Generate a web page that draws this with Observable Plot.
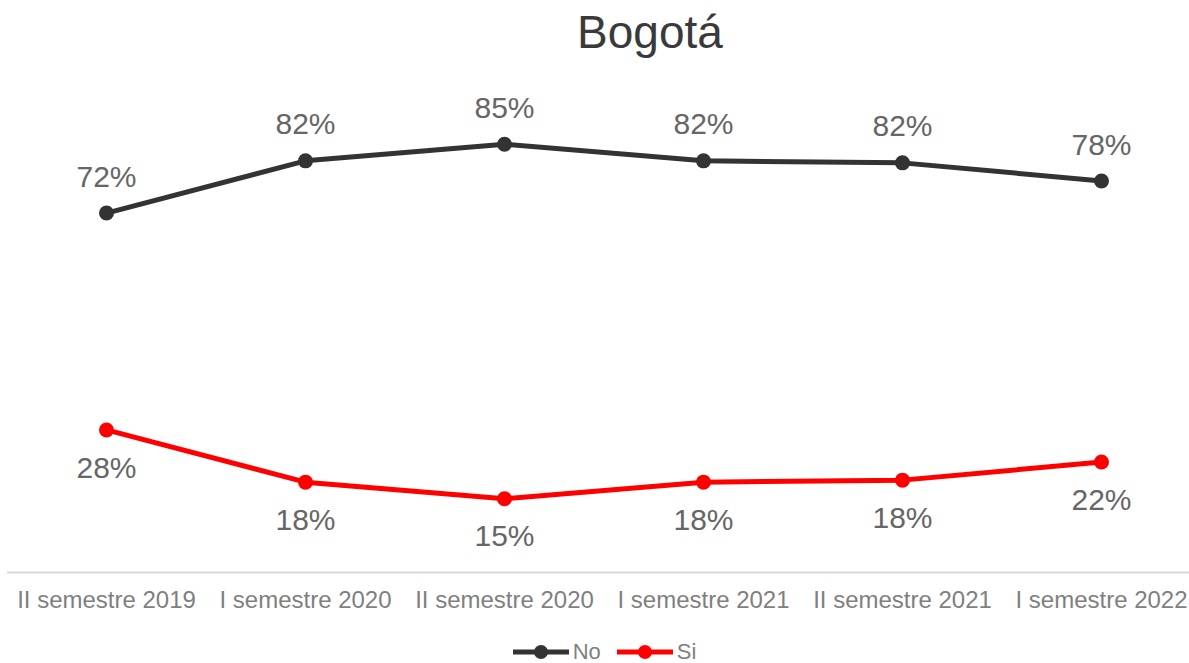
<!DOCTYPE html>
<html>
<head>
<meta charset="utf-8">
<script src="https://cdn.jsdelivr.net/npm/d3@7"></script>
<script src="https://cdn.jsdelivr.net/npm/@observablehq/plot@0.6"></script>
<style>
  html, body { margin: 0; padding: 0; background: #fff; }
  #wrap { position: relative; width: 1189px; height: 663px; overflow: hidden; font-family: "Liberation Sans", Arial, sans-serif; }
  #title { position: absolute; left: 0; top: 9px; width: 1300px; text-align: center; font-size: 46px; line-height: 46px; color: #3a3a3a; }
  #chart { position: absolute; left: 0; top: 0; }
  #legend { position: absolute; left: 0; top: 640px; width: 1189px; display: flex; justify-content: center; align-items: center; font-size: 22px; line-height: 24px; color: #7f7f7f; padding-left: 20px; box-sizing: border-box; }
  #legend .item { display: flex; align-items: center; margin: 0 8px; }
  #legend svg { margin-right: 2px; }
</style>
</head>
<body>
<div id="wrap">
  <div id="chart"></div>
  <div id="title">Bogotá</div>
  <div id="legend"></div>
</div>
<script>
const periods = ["II semestre 2019", "I semestre 2020", "II semestre 2020", "I semestre 2021", "II semestre 2021", "I semestre 2022"];
const noValues = [71.6, 82.0, 85.3, 82.0, 81.6, 78.0];
const siValues = [28.4, 18.0, 14.7, 18.0, 18.4, 22.0];
const seriesNames = ["No", "Si"];
const seriesColors = ["#333333", "#ff0000"];

const rows = [];
periods.forEach((p, i) => {
  rows.push({period: p, series: "No", value: noValues[i]});
  rows.push({period: p, series: "Si", value: siValues[i]});
});
const noRows = rows.filter(d => d.series === "No");
const siRows = rows.filter(d => d.series === "Si");
const fmt = v => Math.round(v) + "%";

const chart = Plot.plot({
  width: 1189,
  height: 620,
  marginTop: 70,
  marginBottom: 48,
  marginLeft: 7,
  marginRight: 0,
  style: {fontFamily: "'Liberation Sans', Arial, sans-serif", background: "transparent"},
  x: {type: "point", domain: periods, range: [106, 1101], padding: 0, label: null},
  y: {domain: [0, 100], axis: null},
  color: {domain: seriesNames, range: seriesColors},
  marks: [
    Plot.ruleY([0], {stroke: "#d9d9d9", strokeWidth: 2}),
    Plot.axisX({tickSize: 0, tickPadding: 18, fontSize: 24, fill: "#7f7f7f", label: null}),
    Plot.line(rows, {x: "period", y: "value", z: "series", stroke: "series", strokeWidth: 5}),
    Plot.dot(rows, {x: "period", y: "value", fill: "series", r: 7.5}),
    Plot.text(noRows, {x: "period", y: "value", text: d => fmt(d.value), dy: -36, fontSize: 30, fill: "#666666"}),
    Plot.text(siRows, {x: "period", y: "value", text: d => fmt(d.value), dy: 38, fontSize: 30, fill: "#666666"})
  ]
});
document.getElementById("chart").appendChild(chart);

const legend = document.getElementById("legend");
seriesNames.forEach((name, i) => {
  const item = document.createElement("div");
  item.className = "item";
  item.innerHTML = `<svg width="58" height="20"><line x1="0" y1="10" x2="56" y2="10" stroke="${seriesColors[i]}" stroke-width="5"/><circle cx="28" cy="10" r="7" fill="${seriesColors[i]}"/></svg><span>${name}</span>`;
  legend.appendChild(item);
});
</script>
</body>
</html>
